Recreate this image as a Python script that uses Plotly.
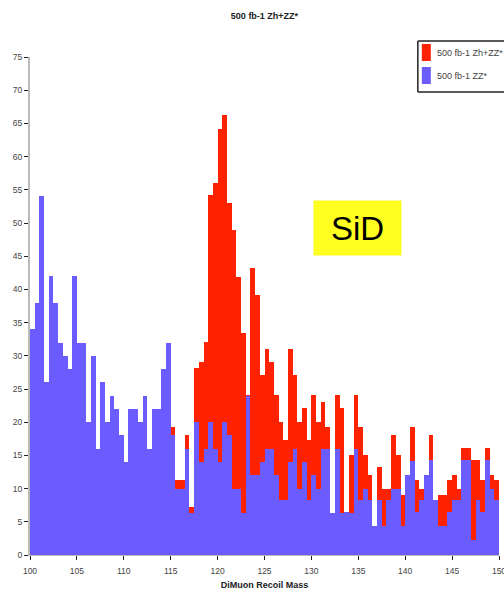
import plotly.graph_objects as go

# bin lower edges: 100.0 .. 149.5 in steps of 0.5
bin_width = 0.5
x_start = 100.0

# ZZ* background (blue)
zz = [34, 38, 54, 26, 42, 38, 32, 30, 28, 42,
      32, 32, 20, 30, 16, 26, 20, 24, 22, 18,
      14, 22, 22, 20, 24, 16, 22, 22, 28, 32,
      18, 10, 10, 16, 6.3, 20, 14, 16, 20, 16,
      14, 20, 18, 10, 10, 6.3, 24, 12, 12, 14,
      16, 16, 12, 8.3, 8.3, 14, 16, 10, 14, 8.3,
      12, 10, 16, 16, 6.3, 16, 6.3, 6.5, 6.3, 16,
      8.3, 10, 8.3, 4.3, 8.3, 4.3, 8.3, 10, 10, 4.3,
      12, 14.1, 6.5, 8.3, 12, 14.3, 8.3, 4.3, 4.3, 6.5,
      8.3, 8.3, 14.3, 14.3, 2.3, 8.3, 6.5, 14.3, 10, 8.3]

# Zh + ZZ* total (red)
total = [34, 38, 54, 26, 42, 38, 32, 30, 28, 42,
         32, 32, 20, 30, 16, 26, 20, 24, 22, 18,
         14, 22, 22, 20, 24, 16, 22, 22, 28, 32,
         19.3, 11.3, 11.3, 18.1, 7.3, 28.1, 29.1, 32.1, 54.2, 56.1,
         64.1, 66.3, 53, 49, 41.9, 33.4, 24.1, 43.2, 39.2, 27.1,
         31.1, 29.1, 24.1, 20.1, 17.3, 31.1, 27.1, 20.1, 22.1, 17.3,
         24.1, 20.1, 23.1, 19.3, 6.3, 24.1, 22.1, 6.5, 15.1, 24.1,
         19.3, 15.1, 12, 4.3, 13.2, 10, 10, 18.1, 15.1, 9,
         12, 19.3, 11.3, 10, 12, 18.1, 8.3, 9, 9, 11.3,
         12, 10, 16.1, 16.1, 14.3, 14.3, 11.3, 16.1, 12, 11.3]

series_names = ["500 fb-1 Zh+ZZ*", "500 fb-1 ZZ*"]
series_colors = ["#ff2200", "#6a5cff"]

centers = [x_start + bin_width * (i + 0.5) for i in range(len(zz))]

y_ticks = list(range(0, 80, 5))
x_ticks = list(range(100, 155, 5))

W, H = 504, 602
ML, MR, MT, MB = 29.5, 4.7, 57, 47
PW, PH = W - ML - MR, H - MT - MB


def px(x):
    return (x - ML) / PW


def py(y):
    return (H - MB - y) / PH


fig = go.Figure()
fig.add_trace(go.Bar(x=centers, y=total, width=bin_width,
                     marker=dict(color=series_colors[0], line=dict(width=0)),
                     name=series_names[0]))
fig.add_trace(go.Bar(x=centers, y=zz, width=bin_width,
                     marker=dict(color=series_colors[1], line=dict(width=0)),
                     name=series_names[1]))

fig.update_layout(
    width=W, height=H,
    margin=dict(l=ML, r=MR, t=MT, b=MB, autoexpand=False),
    paper_bgcolor="white", plot_bgcolor="white",
    barmode="overlay", bargap=0,
    font=dict(family="Arial, Liberation Sans, sans-serif", size=8.5, color="#444444"),
    title=dict(text="<b>500 fb-1 Zh+ZZ*</b>", x=0.5, xref="paper", y=1 - 16 / H,
               yanchor="middle", font=dict(size=9, color="#222222")),
    showlegend=False,
    xaxis=dict(range=[100, 150], tickvals=x_ticks, ticks="outside", ticklen=4,
               tickcolor="#222222", showline=True, linecolor="#bbbbbb", linewidth=1,
               showgrid=False, zeroline=False, ticklabelstandoff=4,
               ticklabeloverflow="allow",
               title=dict(text="<b>DiMuon Recoil Mass</b>", font=dict(size=9, color="#222222"),
                          standoff=6)),
    yaxis=dict(range=[0, 75], tickvals=y_ticks, ticks="outside", ticklen=4,
               tickcolor="#222222", showline=True, linecolor="#bbbbbb", linewidth=2,
               showgrid=False, zeroline=False),
)

# legend box (drawn by hand so that it runs off the right edge as in the reference)
fig.add_shape(type="rect", xref="paper", yref="paper",
              x0=px(418), x1=px(540), y0=py(92), y1=py(41),
              line=dict(width=0), fillcolor="white", layer="above")
for (xa, ya, xb, yb) in [(418, 41, 540, 41), (418, 41, 418, 92), (418, 92, 540, 92)]:
    fig.add_shape(type="line", xref="paper", yref="paper",
                  x0=px(xa), y0=py(ya), x1=px(xb), y1=py(yb),
                  line=dict(color="#222222", width=1.5), layer="above")
for i, (nm, col) in enumerate(zip(series_names, series_colors)):
    top = 44 + i * 23
    fig.add_shape(type="rect", xref="paper", yref="paper",
                  x0=px(422), x1=px(431), y0=py(top + 17), y1=py(top),
                  line=dict(width=0), fillcolor=col, layer="above")
    fig.add_annotation(x=px(435), y=py(top + 9), xref="paper", yref="paper",
                       text=nm, showarrow=False, xanchor="left", yanchor="middle",
                       font=dict(size=9, color="#444444"))

fig.add_annotation(x=px(313), y=py(228), xref="paper", yref="paper",
                   text="SiD", showarrow=False, bgcolor="#ffff22", borderpad=0,
                   font=dict(size=33, color="black", family="Arial, Liberation Sans, sans-serif"),
                   xanchor="left", yanchor="middle", width=87, height=54, align="center")

fig.write_html("out.html")
